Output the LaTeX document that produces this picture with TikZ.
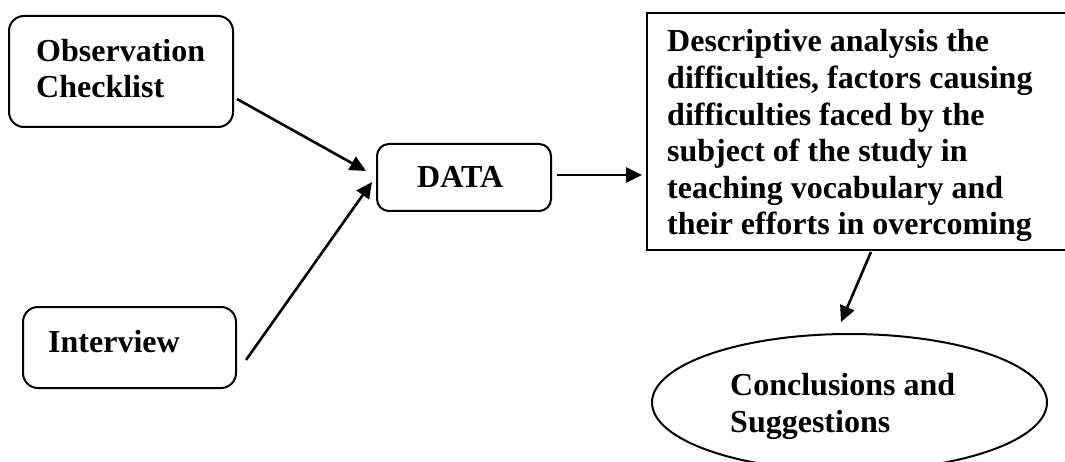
\documentclass[tikz,border=0pt]{standalone}
\usepackage{fontspec}
\setmainfont{Liberation Serif}
\usetikzlibrary{arrows.meta,shapes.geometric,calc}
\tikzset{
  box/.style={draw, line width=2pt, inner sep=0pt},
  rbox/.style={box, rounded corners=15pt},
  lbl/.style={inner sep=0pt, anchor=base west, align=left,
    font=\fontsize{32}{36.6}\selectfont\bfseries},
  conn/.style={line width=2.6pt, -{Triangle[length=16pt,width=15pt]}}
}
\begin{document}
\begin{tikzpicture}[x=1pt,y=-1pt]
\clip (0,0) rectangle (1065,462);
\fill[white] (0,0) rectangle (1065,462);
% boxes
\node[rbox, minimum width=224pt, minimum height=111pt] (obs) at (121,71.5) {};
\node[rbox, minimum width=213pt, minimum height=81pt] (int) at (129.5,347.5) {};
\node[rbox, minimum width=174pt, minimum height=67pt, rounded corners=12pt] (data) at (464,177.5) {};
\node[box, minimum width=470pt, minimum height=237pt] (desc) at (882,131.5) {};
\node[box, ellipse, minimum width=395pt, minimum height=137pt] (conc) at (849.5,402.5) {};
% texts (anchored at the baseline of the last line)
\node[lbl] (obst) at (36,98) {Observation\\Checklist};
\node[lbl] (intt) at (48,352) {Interview};
\node[lbl] (datat) at (417,188) {DATA};
\node[lbl] (desct) at (667,235) {Descriptive analysis the\\difficulties, factors causing\\difficulties faced by the\\subject of the study in\\teaching vocabulary and\\their efforts in overcoming};
\node[lbl, font=\fontsize{32}{37}\selectfont\bfseries] (conct) at (730,432) {Conclusions and\\Suggestions};
% connectors
\draw[conn] ($(obs.south east)+(3,-29)$) -- ($(data.west)+(-10,-6.5)$);
\draw[conn] ($(int.east)+(9,12.5)$) -- ($(data.west)+(-4,4.5)$);
\draw[conn] ($(data.east)+(5,-2.5)$) -- ($(desc.west)+(-4,43.5)$);
\draw[conn] ($(desc.south west)+(225,1)$) -- ($(conc.north)+(-8.5,-11)$);
\end{tikzpicture}
\end{document}
